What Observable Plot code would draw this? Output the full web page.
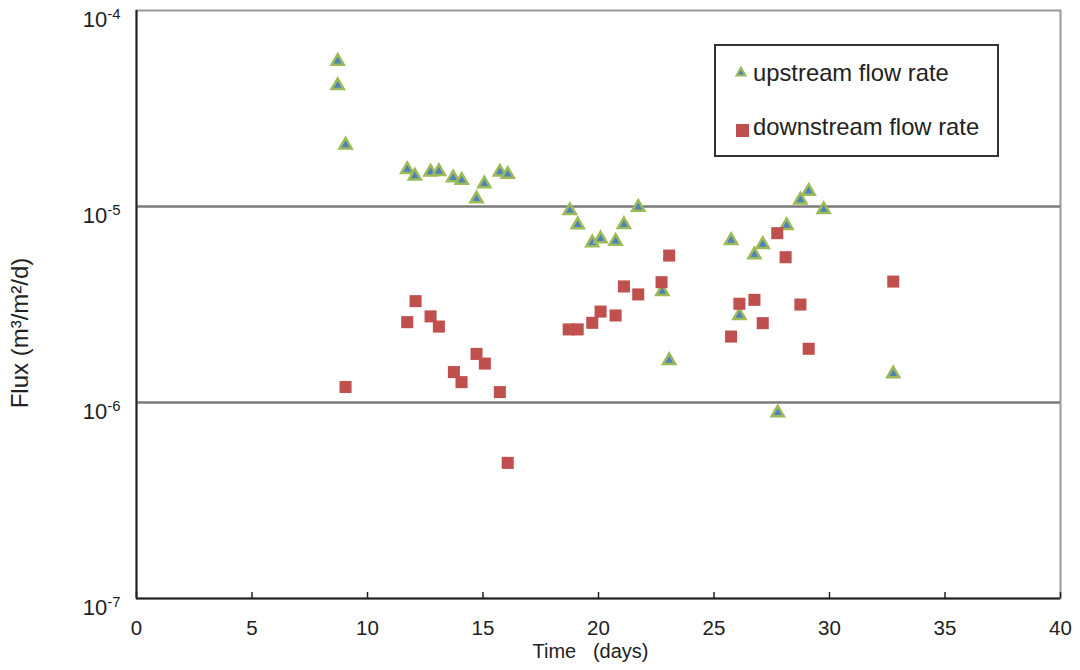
<!DOCTYPE html>
<html><head><meta charset="utf-8">
<script src="https://cdn.jsdelivr.net/npm/d3@7"></script>
<script src="https://cdn.jsdelivr.net/npm/@observablehq/plot@0.6"></script>
<style>body{margin:0;background:#fff} svg{display:block}</style>
</head><body><div id="chart"></div>
<script>
const seriesNames = ["upstream flow rate", "downstream flow rate"];
const upDays = [8.71, 8.71, 9.05, 11.72, 12.05, 12.73, 13.09, 13.71, 14.08, 14.72, 15.06, 15.73, 16.07,
  18.76, 19.10, 19.73, 20.09, 20.74, 21.10, 21.72, 22.76, 23.06, 25.74, 26.10, 26.75, 27.11, 27.76,
  28.14, 28.74, 29.10, 29.75, 32.76];
const upFlux = [5.51e-5, 4.14e-5, 2.06e-5, 1.545e-5, 1.43e-5, 1.50e-5, 1.51e-5, 1.40e-5, 1.36e-5, 1.095e-5,
  1.305e-5, 1.50e-5, 1.46e-5, 9.54e-6, 8.07e-6, 6.53e-6, 6.84e-6, 6.65e-6, 8.09e-6, 9.92e-6, 3.68e-6,
  1.64e-6, 6.71e-6, 2.78e-6, 5.67e-6, 6.40e-6, 8.86e-7, 8.0e-6, 1.08e-5, 1.197e-5, 9.65e-6, 1.40e-6];
const downDays = [9.05, 11.72, 12.08, 12.73, 13.09, 13.74, 14.07, 14.72, 15.08, 15.73, 16.07, 18.71, 19.10,
  19.73, 20.09, 20.74, 21.10, 21.72, 22.73, 23.06, 25.74, 26.10, 26.75, 27.11, 27.74, 28.10, 28.74, 29.10, 32.76];
const downFlux = [1.20e-6, 2.57e-6, 3.29e-6, 2.75e-6, 2.44e-6, 1.43e-6, 1.27e-6, 1.77e-6, 1.58e-6, 1.13e-6,
  4.92e-7, 2.36e-6, 2.36e-6, 2.55e-6, 2.91e-6, 2.78e-6, 3.91e-6, 3.56e-6, 4.11e-6, 5.62e-6, 2.17e-6,
  3.19e-6, 3.34e-6, 2.54e-6, 7.31e-6, 5.51e-6, 3.16e-6, 1.88e-6, 4.14e-6];
const xTicks = [0, 5, 10, 15, 20, 25, 30, 35, 40];
const yTicks = [1e-7, 1e-6, 1e-5, 1e-4];
const gridValues = [1e-6, 1e-5];
const xLabel = "Time\u00a0\u00a0\u00a0(days)";
const yLabel = "Flux (m³/m²/d)";

const up = upDays.map((d, i) => ({day: d, flux: upFlux[i]}));
const down = downDays.map((d, i) => ({day: d, flux: downFlux[i]}));
const FONT = "'Liberation Sans', Arial, Helvetica, sans-serif";

const chart = Plot.plot({
  width: 1080, height: 670,
  marginLeft: 136, marginRight: 20, marginTop: 10, marginBottom: 72,
  style: {fontFamily: FONT, background: "#fff", color: "#222"},
  x: {domain: [0, 40]},
  y: {type: "log", domain: [1e-7, 1e-4]},
  marks: [
    Plot.frame({stroke: "#9a9a9a", strokeWidth: 2}),
    Plot.ruleY(gridValues, {stroke: "#7a7a7a", strokeWidth: 2.5}),
    Plot.ruleX([0], {stroke: "#222", strokeWidth: 2}),
    Plot.ruleY([1e-7], {stroke: "#222", strokeWidth: 2}),
    Plot.ruleX(xTicks, {stroke: "#222", strokeWidth: 1.5, insetTop: 582}),
    Plot.axisX({ticks: xTicks, tickSize: 0, tickPadding: 22, fontSize: 20.5, label: null, tickFormat: d => String(d)}),
    Plot.axisY({ticks: yTicks, tickSize: 0, tickPadding: 16, fontSize: 22, label: null, dy: 9,
      tickFormat: d => String(Math.round(Math.log10(d)))}),
    Plot.dot(up, {x: "day", y: "flux", symbol: "triangle", r: 4.5, fill: "#4F81BD", stroke: "#9BBB59", strokeWidth: 2.5}),
    Plot.dot(down, {x: "day", y: "flux", symbol: "square", r: 6.8, fill: "#C0504D"}),
    Plot.text([xLabel], {frameAnchor: "bottom", dy: 59.5, dx: -8, fontSize: 20, fill: "#222", text: d => d})
  ]
});
document.getElementById("chart").appendChild(chart);

const svg = d3.select(chart);
// superscript y tick labels: 10^n
svg.selectAll('g[aria-label="y-axis tick label"] text').each(function() {
  const exp = this.textContent.replace("−", "-");
  const t = d3.select(this);
  t.text(null);
  t.append("tspan").text("10");
  t.append("tspan").attr("dy", "-0.5em").attr("font-size", "0.68em").text(exp);
});

// y axis title
svg.append("text")
  .attr("transform", "translate(28,333) rotate(-90)")
  .attr("text-anchor", "middle")
  .attr("font-family", FONT).attr("font-size", 24).attr("fill", "#222")
  .text(yLabel);

// legend
const lg = svg.append("g").attr("font-family", FONT).attr("text-anchor", "start");
lg.append("rect").attr("x", 715).attr("y", 45).attr("width", 283).attr("height", 111)
  .attr("fill", "#fff").attr("stroke", "#333").attr("stroke-width", 2);
const tri = d3.symbol(d3.symbolTriangle, Math.PI * 3.3 * 3.3)();
lg.append("path").attr("d", tri).attr("transform", "translate(741,73)")
  .attr("fill", "#4F81BD").attr("stroke", "#9BBB59").attr("stroke-width", 2);
lg.append("rect").attr("x", 736).attr("y", 124).attr("width", 13).attr("height", 13).attr("fill", "#C0504D");
lg.append("text").attr("x", 753).attr("y", 81).attr("font-size", 23.8).attr("fill", "#222").text(seriesNames[0]);
lg.append("text").attr("x", 753).attr("y", 135).attr("font-size", 23.8).attr("fill", "#222").text(seriesNames[1]);
</script></body></html>
